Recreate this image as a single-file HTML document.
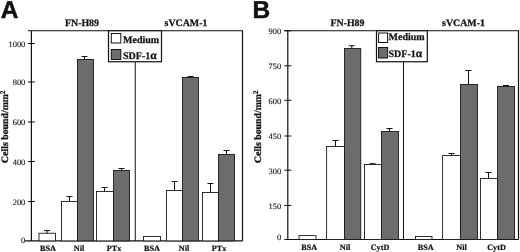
<!DOCTYPE html>
<html><head><meta charset="utf-8"><style>
html,body{margin:0;padding:0;background:#fff}
svg{display:block;will-change:transform;filter:blur(0.35px)}
text{text-rendering:geometricPrecision}
text{font-family:"Liberation Serif",serif;fill:#111}
.b{font-weight:bold}
.p{font-family:"Liberation Sans",sans-serif;font-weight:bold;font-size:24.5px;stroke:#111;stroke-width:0.5px}
.t{font-size:9.9px;font-weight:bold;stroke:#111;stroke-width:0.25px}
.x{font-size:8.2px;font-weight:bold;stroke:#111;stroke-width:0.2px}
.n{font-size:8.4px;stroke:#111;stroke-width:0.12px}
.l{font-size:10px;font-weight:bold;stroke:#111;stroke-width:0.25px}
.y{font-size:9.8px;font-weight:bold;stroke:#111;stroke-width:0.3px}
</style></head><body>
<svg width="520" height="252" viewBox="0 0 520 252">
<rect width="520" height="252" fill="#fff"/>

<text class="p" x="0.8" y="18.4">A</text>
<path d="M31.4 240.9V30.75H242.5V240.9M25.099999999999998 240.9H242.5M27.9 30.75H31.4" stroke="#111" stroke-width="1.2" fill="none"/>
<text class="n" x="25.299999999999997" y="243.1" text-anchor="end">0</text>
<path d="M27.9 201.5H34.9" stroke="#111" stroke-width="1"/>
<text class="n" x="25.299999999999997" y="204.5" text-anchor="end">200</text>
<path d="M27.9 161.5H34.9" stroke="#111" stroke-width="1"/>
<text class="n" x="25.299999999999997" y="164.5" text-anchor="end">400</text>
<path d="M27.9 122H34.9" stroke="#111" stroke-width="1"/>
<text class="n" x="25.299999999999997" y="125.0" text-anchor="end">600</text>
<path d="M27.9 82H34.9" stroke="#111" stroke-width="1"/>
<text class="n" x="25.299999999999997" y="85.0" text-anchor="end">800</text>
<path d="M27.9 43.5H34.9" stroke="#111" stroke-width="1"/>
<text class="n" x="25.299999999999997" y="46.5" text-anchor="end">1000</text>
<path d="M135.25 62V240.9" stroke="#111" stroke-width="1"/>
<rect x="39" y="233.25" width="16.5" height="7.650000000000006" fill="#fff" stroke="#1a1a1a" stroke-width="0.9"/>
<rect x="61.5" y="201.5" width="16.0" height="39.400000000000006" fill="#fff" stroke="#1a1a1a" stroke-width="0.9"/>
<rect x="77.5" y="59.5" width="16.0" height="181.4" fill="#6c6c6c" stroke="#1a1a1a" stroke-width="0.9"/>
<rect x="96.5" y="191.5" width="17.0" height="49.400000000000006" fill="#fff" stroke="#1a1a1a" stroke-width="0.9"/>
<rect x="113.5" y="170.5" width="16.0" height="70.4" fill="#6c6c6c" stroke="#1a1a1a" stroke-width="0.9"/>
<rect x="143.5" y="236.5" width="17.0" height="4.400000000000006" fill="#fff" stroke="#1a1a1a" stroke-width="0.9"/>
<rect x="166.5" y="190.5" width="16.0" height="50.400000000000006" fill="#fff" stroke="#1a1a1a" stroke-width="0.9"/>
<rect x="182.5" y="77.5" width="16.0" height="163.4" fill="#6c6c6c" stroke="#1a1a1a" stroke-width="0.9"/>
<rect x="202.5" y="192.5" width="16.0" height="48.400000000000006" fill="#fff" stroke="#1a1a1a" stroke-width="0.9"/>
<rect x="218.5" y="154.5" width="16.0" height="86.4" fill="#6c6c6c" stroke="#1a1a1a" stroke-width="0.9"/>
<path d="M47 233.25V230.6M44.0 230.6H50.0" stroke="#111" stroke-width="1" fill="none"/>
<path d="M69.5 201.5V196.5M66.5 196.5H72.5" stroke="#111" stroke-width="1" fill="none"/>
<path d="M84.5 59.5V56.5M81.5 56.5H87.5" stroke="#111" stroke-width="1" fill="none"/>
<path d="M104.5 191.5V187.5M101.5 187.5H107.5" stroke="#111" stroke-width="1" fill="none"/>
<path d="M121.5 170.5V168.5M118.5 168.5H124.5" stroke="#111" stroke-width="1" fill="none"/>
<path d="M174.5 190.5V181.5M171.5 181.5H177.5" stroke="#111" stroke-width="1" fill="none"/>
<path d="M190.5 77.5V76.5M187.5 76.5H193.5" stroke="#111" stroke-width="1" fill="none"/>
<path d="M210.5 192.5V183.5M207.5 183.5H213.5" stroke="#111" stroke-width="1" fill="none"/>
<path d="M226.5 154.5V150.5M223.5 150.5H229.5" stroke="#111" stroke-width="1" fill="none"/>
<rect x="108.5" y="30.75" width="53.0" height="31" fill="#fff" stroke="#111" stroke-width="1.2"/>
<rect x="111.3" y="33.5" width="9.5" height="9.5" fill="#fff" stroke="#111" stroke-width="1"/>
<rect x="111.3" y="49.5" width="9.5" height="10" fill="#6c6c6c" stroke="#111" stroke-width="1"/>
<text class="l" x="123" y="43">Medium</text>
<text class="l" x="123" y="58.5">SDF-1<tspan font-size="11.5px">α</tspan></text>
<text class="t" x="82" y="26" text-anchor="middle">FN-H89</text>
<text class="t" x="186" y="26" text-anchor="middle">sVCAM-1</text>
<text class="x" x="48" y="250.8" text-anchor="middle">BSA</text>
<text class="x" x="79" y="250.8" text-anchor="middle">Nil</text>
<text class="x" x="114" y="250.8" text-anchor="middle">PTx</text>
<text class="x" x="152" y="250.8" text-anchor="middle">BSA</text>
<text class="x" x="184" y="250.8" text-anchor="middle">Nil</text>
<text class="x" x="219" y="250.8" text-anchor="middle">PTx</text>
<text class="y" transform="translate(8.3 126.7) rotate(-90)" text-anchor="middle">Cells bound/mm<tspan dy="-3.2" font-size="7px">2</tspan></text>
<text class="p" x="252.6" y="18.4">B</text>
<path d="M287.8 239.5V30.75H518.5V239.5M284.3 239.5H518.5M284.3 30.75H287.8" stroke="#111" stroke-width="1.2" fill="none"/>
<text class="n" x="281.1" y="240.0" text-anchor="end">0</text>
<path d="M284.3 205.4H291.3" stroke="#111" stroke-width="1"/>
<text class="n" x="281.1" y="208.70000000000002" text-anchor="end">150</text>
<path d="M284.3 170.2H291.3" stroke="#111" stroke-width="1"/>
<text class="n" x="281.1" y="173.5" text-anchor="end">300</text>
<path d="M284.3 136H291.3" stroke="#111" stroke-width="1"/>
<text class="n" x="281.1" y="139.3" text-anchor="end">450</text>
<path d="M284.3 100.3H291.3" stroke="#111" stroke-width="1"/>
<text class="n" x="281.1" y="103.6" text-anchor="end">600</text>
<path d="M284.3 65.8H291.3" stroke="#111" stroke-width="1"/>
<text class="n" x="281.1" y="69.1" text-anchor="end">750</text>
<path d="M284.3 30.75H291.3" stroke="#111" stroke-width="1"/>
<text class="n" x="281.1" y="34.05" text-anchor="end">900</text>
<path d="M403.5 62V239.5" stroke="#111" stroke-width="1"/>
<rect x="299" y="235.6" width="17" height="3.9000000000000057" fill="#fff" stroke="#1a1a1a" stroke-width="0.9"/>
<rect x="326.6" y="146.5" width="17.899999999999977" height="93.0" fill="#fff" stroke="#1a1a1a" stroke-width="0.9"/>
<rect x="344.5" y="48.5" width="16.25" height="191.0" fill="#6c6c6c" stroke="#1a1a1a" stroke-width="0.9"/>
<rect x="364.5" y="164.5" width="17.0" height="75.0" fill="#fff" stroke="#1a1a1a" stroke-width="0.9"/>
<rect x="381.5" y="131.5" width="17.0" height="108.0" fill="#6c6c6c" stroke="#1a1a1a" stroke-width="0.9"/>
<rect x="415.5" y="236.5" width="16.5" height="3.0" fill="#fff" stroke="#1a1a1a" stroke-width="0.9"/>
<rect x="442.6" y="155.5" width="17.899999999999977" height="84.0" fill="#fff" stroke="#1a1a1a" stroke-width="0.9"/>
<rect x="460.5" y="84.5" width="17.0" height="155.0" fill="#6c6c6c" stroke="#1a1a1a" stroke-width="0.9"/>
<rect x="480.5" y="178.5" width="17.0" height="61.0" fill="#fff" stroke="#1a1a1a" stroke-width="0.9"/>
<rect x="497.5" y="86.5" width="17.0" height="153.0" fill="#6c6c6c" stroke="#1a1a1a" stroke-width="0.9"/>
<path d="M335.5 146.5V140.5M332.5 140.5H338.5" stroke="#111" stroke-width="1" fill="none"/>
<path d="M351.75 48.5V45.75M348.75 45.75H354.75" stroke="#111" stroke-width="1" fill="none"/>
<path d="M372.5 164.5V163.7M369.5 163.7H375.5" stroke="#111" stroke-width="1" fill="none"/>
<path d="M389.5 131.5V128.5M386.5 128.5H392.5" stroke="#111" stroke-width="1" fill="none"/>
<path d="M451.5 155.5V153.5M448.5 153.5H454.5" stroke="#111" stroke-width="1" fill="none"/>
<path d="M468.5 84.5V70.5M465.5 70.5H471.5" stroke="#111" stroke-width="1" fill="none"/>
<path d="M488.5 178.5V172.5M485.5 172.5H491.5" stroke="#111" stroke-width="1" fill="none"/>
<path d="M506 86.5V85.5M503.0 85.5H509.0" stroke="#111" stroke-width="1" fill="none"/>
<rect x="376.5" y="30.75" width="50.80000000000001" height="31" fill="#fff" stroke="#111" stroke-width="1.2"/>
<rect x="378.6" y="33" width="9" height="9.5" fill="#fff" stroke="#111" stroke-width="1"/>
<rect x="378.6" y="47.5" width="9" height="10.5" fill="#6c6c6c" stroke="#111" stroke-width="1"/>
<text class="l" x="388.5" y="39.9">Medium</text>
<text class="l" x="388.5" y="56.7">SDF-1<tspan font-size="11.5px">α</tspan></text>
<text class="t" x="347.5" y="26" text-anchor="middle">FN-H89</text>
<text class="t" x="463.5" y="26" text-anchor="middle">sVCAM-1</text>
<text class="x" x="309.2" y="249.9" text-anchor="middle">BSA</text>
<text class="x" x="345" y="249.9" text-anchor="middle">Nil</text>
<text class="x" x="380" y="249.9" text-anchor="middle">CytD</text>
<text class="x" x="425.7" y="249.9" text-anchor="middle">BSA</text>
<text class="x" x="461.5" y="249.9" text-anchor="middle">Nil</text>
<text class="x" x="496.5" y="249.9" text-anchor="middle">CytD</text>
<text class="y" transform="translate(260.9 126.7) rotate(-90)" text-anchor="middle">Cells bound/mm<tspan dy="-3.2" font-size="7px">2</tspan></text>
</svg></body></html>
